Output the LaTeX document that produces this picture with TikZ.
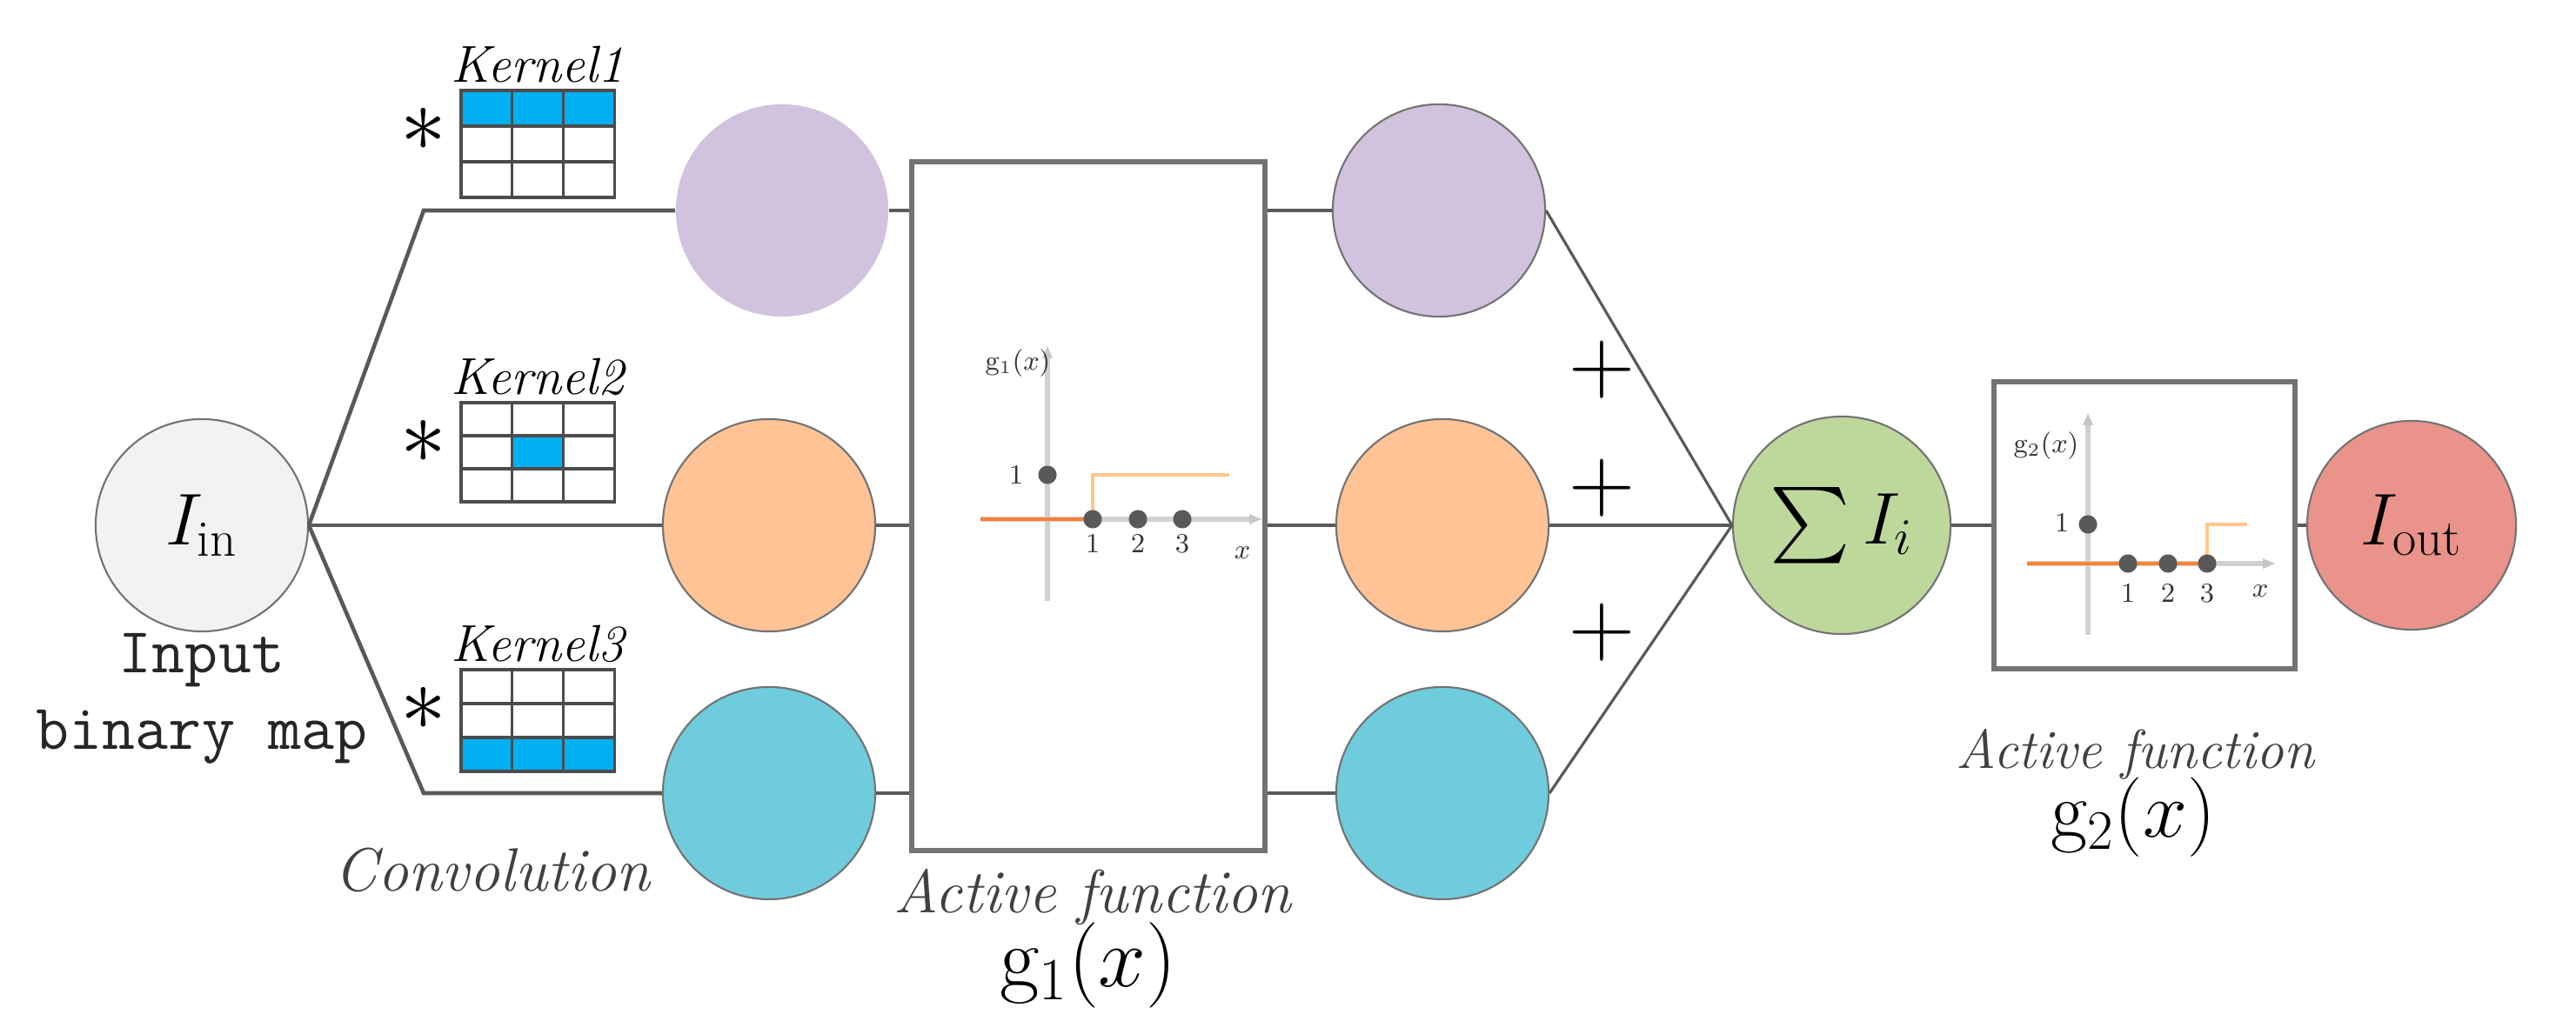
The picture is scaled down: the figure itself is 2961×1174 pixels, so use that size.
\documentclass[tikz,border=0pt]{standalone}
\usepackage{fix-cm}
\usepackage{amsmath}
\usepackage{fontspec}
\begin{document}
\begin{tikzpicture}[x=0.01cm,y=-0.01cm,
  conn/.style={draw=black!65,line width=1.3pt},
  neuron/.style={circle,draw=black!55,line width=0.6pt,minimum size=2.44cm,inner sep=0pt},
  fbox/.style={draw=black!55,line width=1.6pt,fill=white},
  ax/.style={draw=black!18,line width=1.6pt},
  stp/.style={draw=orange!75!red!80,line width=1.3pt},
  dot/.style={circle,fill=black!65,inner sep=0pt,minimum size=6pt},
  sm/.style={font=\fontsize{9}{10}\selectfont,text=black!80},
  kcell/.style={draw=black!70,line width=0.9pt},
  lbl/.style={font=\fontsize{20}{24}\selectfont\itshape,text=black!75}]
\useasboundingbox (0,0) rectangle (2961,1174);
\definecolor{cpur}{HTML}{D1C3DE}\definecolor{cora}{HTML}{FFC396}
\definecolor{ccya}{HTML}{6FCCDC}\definecolor{cgre}{HTML}{BED89C}
\definecolor{cred}{HTML}{E9938B}\definecolor{cin}{HTML}{F2F2F2}
\definecolor{kb}{HTML}{00B0F0}
% coordinates
\coordinate (b) at (355,604);
\coordinate (t1) at (487,242);
\coordinate (t3) at (487,912);
% boxes
\node[fbox,minimum width=4.06cm,minimum height=7.92cm,inner sep=0pt] (g1) at (1251,582) {};
\node[fbox,minimum width=3.46cm,minimum height=3.3cm,inner sep=0pt] (g2) at (2465,604) {};
% neurons
\node[neuron,fill=cin] (in) at (232,604) {\fontsize{24}{28}\selectfont$I_{\mathrm{in}}$};
\node[neuron,fill=cpur,draw=none] (p1) at (899,242) {};
\node[neuron,fill=cora] (o1) at (884,604) {};
\node[neuron,fill=ccya] (c1) at (884,912) {};
\node[neuron,fill=cpur] (p2) at (1654,242) {};
\node[neuron,fill=cora] (o2) at (1658,604) {};
\node[neuron,fill=ccya] (c2) at (1658,912) {};
\node[neuron,fill=cgre,minimum size=2.5cm] (s) at (2117,604) {\fontsize{24}{28}\selectfont$\sum I_i$};
\node[neuron,fill=cred,minimum size=2.4cm] (out) at (2772,604) {\fontsize{24}{28}\selectfont$I_{\mathrm{out}}$};
% connectors
\draw[conn] (in.east) -- (b);
\draw[conn] (b) -- (t1) -- (p1.west);
\draw[conn] (b) -- (o1.west);
\draw[conn] (b) -- (t3) -- (c1.west);
\draw[conn] (p1.east) -- (p1.east -| g1.west);
\draw[conn] (o1.east) -- (o1.east -| g1.west);
\draw[conn] (c1.east) -- (c1.east -| g1.west);
\draw[conn] (p2.west -| g1.east) -- (p2.west);
\draw[conn] (o2.west -| g1.east) -- (o2.west);
\draw[conn] (c2.west -| g1.east) -- (c2.west);
\draw[conn,line width=0.9pt] (p2.east) -- (s.west);
\draw[conn] (o2.east) -- (s.west);
\draw[conn,line width=0.9pt] (c2.east) -- (s.west);
\draw[conn] (s.east) -- (g2.west);
\draw[conn] (g2.east) -- (out.west);
% plus signs
\foreach \y/\n in {425/pa,561/pb,727/pc}
  \node[font=\fontsize{30}{32}\selectfont] (\n) at (1841,\y) {$+$};
% kernels
\foreach \k/\yt in {1/104,2/463,3/770}{
  \node[font=\fontsize{17}{20}\selectfont\itshape] (kl\k) at (618,\yt-30) {Kernel\k};
  \node[font=\fontsize{30}{32}\selectfont] (st\k) at (487,\yt+45) {$*$};
}
\fill[kb] (530,104) rectangle (706,145);
\fill[kb] (589,501) rectangle (648,539);
\fill[kb] (530,848) rectangle (706,887);
\foreach \yt/\h in {104/41,463/38,770/39}{
  \foreach \i in {0,1,2} \foreach \j in {0,1,2}
    \draw[kcell] (530+\i*58.7,\yt+\j*\h) rectangle ++(58.7,\h);
}
% labels
\node[font=\fontsize{21}{25}\selectfont\ttfamily,align=center,text=black!85] (inl) at (232,803) {Input\\binary map};
\node[lbl] (conv) at (566,1000) {Convolution};
\node[lbl] (af1) at (1256,1032) {Active function};
\node[font=\fontsize{28}{30}\selectfont] (g1l) at (1251,1110) {$\mathrm{g}_1(x)$};
\node[lbl,font=\fontsize{18}{22}\selectfont\itshape] (af2) at (2454,867) {Active function};
\node[font=\fontsize{26}{28}\selectfont] (g2l) at (2452,940) {$\mathrm{g}_2(x)$};
% plot g1
\draw[ax] (1204,691) -- (1204,410);
\fill[black!22] (1198,412) -- (1210,412) -- (1204,398) -- cycle;
\draw[ax] (1127,597) -- (1440,597);
\fill[black!22] (1436,591) -- (1436,603) -- (1450,597) -- cycle;
\draw[stp] (1127,597) -- (1256,597);
\draw[stp,draw=orange!45] (1256,597) -- (1256,546) -- (1413,546);
\foreach \x in {1256,1308,1359} \node[dot] at (\x,597) {};
\node[dot] at (1204,546) {};
\node[sm] at (1168,546) {1};
\node[sm] at (1256,625) {1};
\node[sm] at (1308,625) {2};
\node[sm] at (1359,625) {3};
\node[sm] at (1428,636) {$x$};
\node[sm] at (1170,418) {$\mathrm{g}_1(x)$};
% plot g2
\draw[ax] (2400,730) -- (2400,487);
\fill[black!22] (2394,489) -- (2406,489) -- (2400,475) -- cycle;
\draw[ax] (2330,648) -- (2605,648);
\fill[black!22] (2601,642) -- (2601,654) -- (2615,648) -- cycle;
\draw[stp] (2330,648) -- (2537,648);
\draw[stp,draw=orange!45] (2537,648) -- (2537,603) -- (2583,603);
\foreach \x in {2446,2492,2537} \node[dot] at (\x,648) {};
\node[dot] at (2400,603) {};
\node[sm] at (2370,601) {1};
\node[sm] at (2446,682) {1};
\node[sm] at (2492,682) {2};
\node[sm] at (2537,682) {3};
\node[sm] at (2598,680) {$x$};
\node[sm] at (2352,513) {$\mathrm{g}_2(x)$};
\end{tikzpicture}
\end{document}
